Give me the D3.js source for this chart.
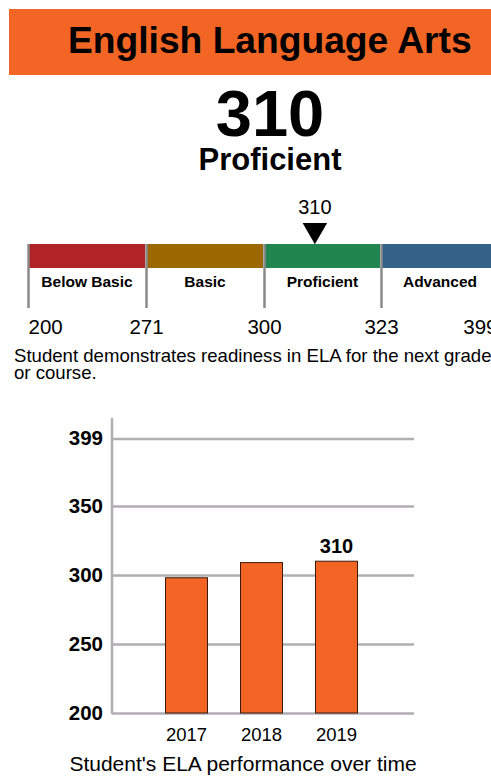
<!DOCTYPE html>
<html>
<head>
<meta charset="utf-8">
<script src="https://cdn.jsdelivr.net/npm/d3@7"></script>
<style>
  body { margin: 0; background: #fff; }
  svg { display: block; font-family: "Liberation Sans", Arial, sans-serif; }
</style>
</head>
<body>
<svg id="vis"></svg>
<script>
//DATOS--------------------------------------------------------------------------------------------
const SUBJECT = "English Language Arts";
const SCORE = 310;
const LEVEL = "Proficient";
const CUT_SCORES = [200, 271, 300, 323, 399];
const LEVELS = ["Below Basic", "Basic", "Proficient", "Advanced"];
const LEVEL_COLORS = ["#b02326", "#9c6802", "#20854f", "#336187"];
const DESCRIPTION = [
  "Student demonstrates readiness in ELA for the next grade",
  "or course.",
];
const YEARS = ["2017", "2018", "2019"];
const YEAR_SCORES = [298, 309, 310];
const Y_TICKS = [200, 250, 300, 350, 399];
const CAPTION = "Student's ELA performance over time";

//CONSTANTES---------------------------------------------------------------------------------------
const WIDTH = 491;
const HEIGHT = 776;
const ORANGE = "#f26524";
const GRID = "#b0aeb0";
const svg = d3.select("#vis").attr("width", WIDTH).attr("height", HEIGHT);

//ENCABEZADO---------------------------------------------------------------------------------------
svg
  .append("rect")
  .attr("x", 9)
  .attr("y", 9)
  .attr("width", WIDTH - 9)
  .attr("height", 66)
  .attr("fill", ORANGE);
svg
  .append("text")
  .attr("x", 68)
  .attr("y", 53)
  .attr("font-size", 37.2)
  .attr("font-weight", "bold")
  .text(SUBJECT);
svg
  .append("text")
  .attr("x", 270)
  .attr("y", 136)
  .attr("text-anchor", "middle")
  .attr("font-size", 65)
  .attr("font-weight", "bold")
  .text(SCORE);
svg
  .append("text")
  .attr("x", 270)
  .attr("y", 170)
  .attr("text-anchor", "middle")
  .attr("font-size", 31)
  .attr("font-weight", "bold")
  .text(LEVEL);

//BARRA DE NIVELES---------------------------------------------------------------------------------
const escalaNivel = d3
  .scaleLinear()
  .domain(CUT_SCORES)
  .range([28, 146, 264, 381, 499]);
const BAR_TOP = 244;
const BAR_H = 24;
const segmentos = LEVELS.map((nombre, i) => ({
  nombre: nombre,
  desde: CUT_SCORES[i],
  hasta: CUT_SCORES[i + 1],
  color: LEVEL_COLORS[i],
}));

const nivel = svg.append("g");
nivel
  .selectAll("rect")
  .data(segmentos)
  .join("rect")
  .attr("x", (d) => escalaNivel(d.desde) + 1)
  .attr("y", BAR_TOP)
  .attr("width", (d) => escalaNivel(d.hasta) - escalaNivel(d.desde) - 2)
  .attr("height", BAR_H)
  .attr("fill", (d) => d.color);
nivel
  .selectAll(".nombre")
  .data(segmentos)
  .join("text")
  .attr("class", "nombre")
  .attr("x", (d) => (escalaNivel(d.desde) + escalaNivel(d.hasta)) / 2)
  .attr("y", 287)
  .attr("text-anchor", "middle")
  .attr("font-size", 15.5)
  .attr("font-weight", "bold")
  .text((d) => d.nombre);

const ejeNivel = d3
  .axisBottom(escalaNivel)
  .tickValues(CUT_SCORES)
  .tickSize(BAR_H + 40)
  .tickPadding(11)
  .tickFormat(d3.format("d"));
const gNivel = svg
  .append("g")
  .attr("transform", `translate(0, ${BAR_TOP})`)
  .call(ejeNivel);
gNivel.select(".domain").remove();
gNivel.selectAll("line").attr("stroke", "#8a8a8a").attr("stroke-width", 2.5);
const ultimoCorte = CUT_SCORES.length - 1;
gNivel
  .selectAll("text")
  .attr("font-family", "Liberation Sans, Arial, sans-serif")
  .attr("font-size", 20.5)
  .attr("fill", "#000")
  .attr("text-anchor", (d, i) =>
    i === 0 ? "start" : i === ultimoCorte ? "end" : "middle"
  )
  .attr("dx", (d, i) => (i === ultimoCorte ? -2 : 0));

//MARCADOR---------------------------------------------------------------------------------------
const xMarca = escalaNivel(SCORE);
svg
  .append("path")
  .attr("d", d3.symbol(d3.symbolTriangle, 260)())
  .attr("transform", `translate(${xMarca}, 230) rotate(180)`)
  .attr("fill", "#000");
svg
  .append("text")
  .attr("x", xMarca)
  .attr("y", 214)
  .attr("text-anchor", "middle")
  .attr("font-size", 20)
  .text(SCORE);

svg
  .selectAll(".desc")
  .data(DESCRIPTION)
  .join("text")
  .attr("class", "desc")
  .attr("x", 14)
  .attr("y", (d, i) => 362 + i * 17)
  .attr("font-size", 18.6)
  .text((d) => d);

//GRAFICO DE BARRAS--------------------------------------------------------------------------------
const X0 = 112;
const X1 = 414;
const escalaY = d3.scaleLinear().domain([200, 399]).range([713, 438.4]);
const escalaX = d3
  .scaleBand()
  .domain(YEARS)
  .range([149, 374])
  .paddingInner(0.44)
  .paddingOuter(0.22);

const ejeY = d3
  .axisLeft(escalaY)
  .tickValues(Y_TICKS)
  .tickSize(-(X1 - X0))
  .tickPadding(9);
const gY = svg.append("g").attr("transform", `translate(${X0}, 0)`).call(ejeY);
gY.select(".domain").remove();
gY.selectAll("line").attr("stroke", GRID).attr("stroke-width", 2.5);
gY
  .selectAll("text")
  .attr("font-family", "Liberation Sans, Arial, sans-serif")
  .attr("font-size", 20.5)
  .attr("font-weight", "bold")
  .attr("fill", "#000");
svg
  .append("line")
  .attr("x1", X0)
  .attr("x2", X0)
  .attr("y1", 418)
  .attr("y2", 714)
  .attr("stroke", GRID)
  .attr("stroke-width", 2.5);

svg
  .selectAll(".barra")
  .data(YEARS)
  .join("rect")
  .attr("class", "barra")
  .attr("x", (d) => escalaX(d))
  .attr("y", (d, i) => escalaY(YEAR_SCORES[i]))
  .attr("width", escalaX.bandwidth())
  .attr("height", (d, i) => escalaY(200) - escalaY(YEAR_SCORES[i]))
  .attr("fill", ORANGE)
  .attr("stroke", "#3a1a0a")
  .attr("stroke-width", 1);

const ultimo = YEARS.length - 1;
svg
  .append("text")
  .attr("x", escalaX(YEARS[ultimo]) + escalaX.bandwidth() / 2)
  .attr("y", escalaY(YEAR_SCORES[ultimo]) - 8)
  .attr("text-anchor", "middle")
  .attr("font-size", 20)
  .attr("font-weight", "bold")
  .text(YEAR_SCORES[ultimo]);

const ejeX = d3.axisBottom(escalaX).tickSize(0).tickPadding(15);
const gX = svg.append("g").attr("transform", `translate(0, 713)`).call(ejeX);
gX.select(".domain").remove();
gX
  .selectAll("text")
  .attr("font-family", "Liberation Sans, Arial, sans-serif")
  .attr("font-size", 18.5)
  .attr("fill", "#000");

svg
  .append("text")
  .attr("x", 243)
  .attr("y", 771)
  .attr("text-anchor", "middle")
  .attr("font-size", 21)
  .text(CAPTION);
</script>
</body>
</html>
